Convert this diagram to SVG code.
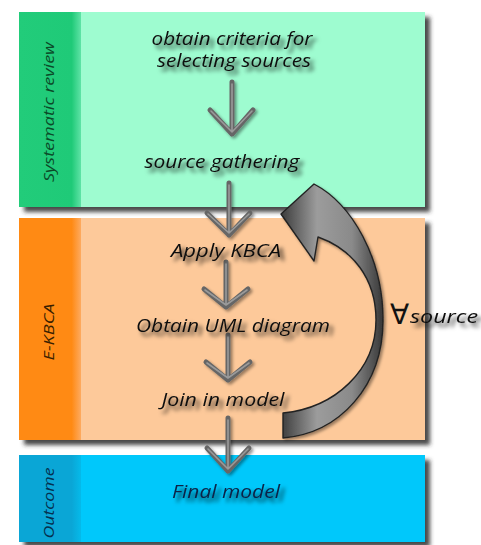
<svg xmlns="http://www.w3.org/2000/svg" width="481" height="545" viewBox="0 0 481 545">
  <defs>
    <filter id="boxShadow" x="-5%" y="-5%" width="115%" height="115%">
      <feDropShadow dx="5" dy="5" stdDeviation="2" flood-color="#2a2a2a" flood-opacity="0.85"/>
    </filter>
    <filter id="textShadow" x="-10%" y="-30%" width="130%" height="180%">
      <feGaussianBlur in="SourceAlpha" stdDeviation="2.2"/>
      <feOffset dx="4" dy="4" result="sh"/>
      <feFlood flood-color="#000" flood-opacity="0.8"/>
      <feComposite in2="sh" operator="in"/>
      <feMerge><feMergeNode/><feMergeNode in="SourceGraphic"/></feMerge>
    </filter>
    <filter id="arrowShadow" x="-20%" y="-20%" width="140%" height="140%">
      <feDropShadow dx="2" dy="2" stdDeviation="1.5" flood-color="#000" flood-opacity="0.4"/>
    </filter>
    <linearGradient id="greenStrip" x1="0" x2="1" y1="0" y2="0">
      <stop offset="0" stop-color="#22cc7a"/>
      <stop offset="0.85" stop-color="#1fca78"/>
      <stop offset="1" stop-color="#5fe3a6"/>
    </linearGradient>
    <linearGradient id="orangeStrip" x1="0" x2="1" y1="0" y2="0">
      <stop offset="0" stop-color="#ff8a14"/>
      <stop offset="0.85" stop-color="#ff8a14"/>
      <stop offset="1" stop-color="#fdaa60"/>
    </linearGradient>
    <linearGradient id="blueStrip" x1="0" x2="1" y1="0" y2="0">
      <stop offset="0" stop-color="#0aa6d6"/>
      <stop offset="0.85" stop-color="#0aa6d6"/>
      <stop offset="1" stop-color="#05baea"/>
    </linearGradient>
    <linearGradient id="loopFill" x1="282" y1="0" x2="382" y2="0" gradientUnits="userSpaceOnUse">
      <stop offset="0" stop-color="#3e3e3e"/>
      <stop offset="0.35" stop-color="#9c9c9c"/>
      <stop offset="0.7" stop-color="#8a8a8a"/>
      <stop offset="1" stop-color="#3a3a3a"/>
    </linearGradient>
    <style>
      .label { font-family: "Open Sans", "DejaVu Sans", sans-serif; font-style: italic; font-weight: 500; font-size: 18px; fill: #111; text-anchor: middle; }
      .side { font-family: "Open Sans", "DejaVu Sans", sans-serif; font-style: italic; font-weight: 500; font-size: 15px; text-anchor: middle; }
      .step { fill: none; stroke: #666; stroke-width: 5; stroke-linecap: round; stroke-linejoin: round; }
      .stepHi { fill: none; stroke: #9a9a9a; stroke-width: 1.6; stroke-linecap: round; stroke-linejoin: round; }
    </style>
  </defs>

  <rect width="481" height="545" fill="#fff"/>

  <!-- Phase: systematic review -->
  <g id="phase-systematic-review">
    <rect x="19" y="12" width="406" height="195" fill="#9efcd0" filter="url(#boxShadow)"/>
    <rect x="19" y="12" width="62" height="195" fill="url(#greenStrip)"/>
    <text class="side" x="54" y="112" fill="#0b4a28" textLength="140" lengthAdjust="spacingAndGlyphs" transform="rotate(-90 54 112)">Systematic review</text>
  </g>

  <!-- Phase: E-KBCA -->
  <g id="phase-ekbca">
    <rect x="19" y="218" width="406" height="222" fill="#fdc99a" filter="url(#boxShadow)"/>
    <rect x="19" y="218" width="62" height="222" fill="url(#orangeStrip)"/>
    <text class="side" x="54" y="332" fill="#3a1f00" textLength="57" lengthAdjust="spacingAndGlyphs" transform="rotate(-90 54 332)">E-KBCA</text>
  </g>

  <!-- Phase: outcome -->
  <g id="phase-outcome">
    <rect x="19" y="455" width="406" height="87" fill="#00c8fb" filter="url(#boxShadow)"/>
    <rect x="19" y="455" width="62" height="87" fill="url(#blueStrip)"/>
    <text class="side" x="54" y="503" fill="#05304f" textLength="71" lengthAdjust="spacingAndGlyphs" transform="rotate(-90 54 503)">Outcome</text>
  </g>

  <!-- Step connectors -->
  <g id="connectors">
    <g filter="url(#arrowShadow)">
      <path class="step" d="M232 82 V134 M210 110 L232 134 L253 110"/>
      <path class="step" d="M229 183 V235 M207 213 L229 235 L250 213"/>
      <path class="step" d="M226 262 V306 M204 289 L226 307 L248 289"/>
      <path class="step" d="M228 335 V380 M206 362 L228 380 L250 362"/>
      <path class="step" d="M228 418 V471 M207 448 L228 471 L249 448"/>
    </g>
    <path class="stepHi" d="M232 84 V132 M211 111 L232 132 L252 111"/>
    <path class="stepHi" d="M229 185 V233 M208 214 L229 233 L249 214"/>
    <path class="stepHi" d="M226 264 V304 M205 290 L226 305 L247 290"/>
    <path class="stepHi" d="M228 337 V378 M207 363 L228 378 L249 363"/>
    <path class="stepHi" d="M228 420 V469 M208 449 L228 469 L248 449"/>

    <!-- loop back: for every source -->
    <g id="loop-arrow" filter="url(#arrowShadow)">
      <path d="M281 214 L314 184 C352 204 383 258 383 320 C383 386 340 433 283 438 L283 413 C335 408 376 370 376 320 C376 278 352 249 318 237 L314 261 Z" fill="url(#loopFill)" stroke="#222" stroke-width="1.4" stroke-linejoin="round"/>
    </g>
    <text x="390" y="324" font-family="DejaVu Sans, sans-serif" font-size="28" fill="#111">∀</text>
    <text x="410" y="323" font-family="Open Sans, DejaVu Sans, sans-serif" font-style="italic" font-weight="500" font-size="18" fill="#111" textLength="68" lengthAdjust="spacingAndGlyphs" filter="url(#textShadow)">source</text>
  </g>

  <!-- Activities -->
  <g id="node-criteria" filter="url(#textShadow)">
    <text class="label" x="232" y="45" textLength="161" lengthAdjust="spacingAndGlyphs">obtain criteria for</text>
    <text class="label" x="234" y="67" textLength="154" lengthAdjust="spacingAndGlyphs">selecting sources</text>
  </g>
  <g id="node-gathering" filter="url(#textShadow)">
    <text class="label" x="222" y="168" textLength="155" lengthAdjust="spacingAndGlyphs">source gathering</text>
  </g>
  <g id="node-apply" filter="url(#textShadow)">
    <text class="label" x="226" y="257" textLength="110" lengthAdjust="spacingAndGlyphs">Apply KBCA</text>
  </g>
  <g id="node-uml" filter="url(#textShadow)">
    <text class="label" x="233" y="332" textLength="194" lengthAdjust="spacingAndGlyphs">Obtain UML diagram</text>
  </g>
  <g id="node-join" filter="url(#textShadow)">
    <text class="label" x="223" y="406" textLength="123" lengthAdjust="spacingAndGlyphs">Join in model</text>
  </g>
  <g id="node-final" filter="url(#textShadow)">
    <text class="label" x="226" y="498" style="fill:#0a2446" textLength="108" lengthAdjust="spacingAndGlyphs">Final model</text>
  </g>
</svg>
